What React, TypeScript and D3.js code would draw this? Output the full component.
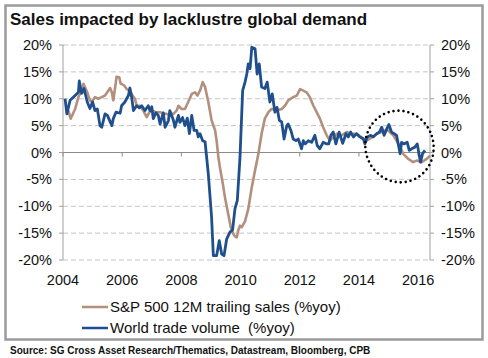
import React from "react";
import * as d3 from "d3";

const salesDates = [
  2004.18, 2004.26, 2004.41, 2004.52, 2004.63, 2004.69, 2004.82, 2004.91, 2004.97, 2005.08,
  2005.19, 2005.31, 2005.42, 2005.53, 2005.59, 2005.65, 2005.7, 2005.76, 2005.81, 2005.9,
  2005.95, 2006.06, 2006.15, 2006.26, 2006.35, 2006.43, 2006.49, 2006.6, 2006.71, 2006.83,
  2006.92, 2007.03, 2007.11, 2007.28, 2007.39, 2007.5, 2007.61, 2007.73, 2007.84, 2007.9,
  2008.01, 2008.12, 2008.23, 2008.35, 2008.46, 2008.54, 2008.63, 2008.72, 2008.8, 2008.91,
  2009.02, 2009.14, 2009.19, 2009.25, 2009.3, 2009.4, 2009.47, 2009.58, 2009.67, 2009.75,
  2009.81, 2009.87, 2009.92, 2009.98, 2010.04, 2010.15, 2010.26, 2010.38, 2010.49, 2010.6,
  2010.71, 2010.82, 2010.94, 2011.05, 2011.22, 2011.39, 2011.5, 2011.61, 2011.78, 2011.9,
  2012.01, 2012.12, 2012.23, 2012.34, 2012.46, 2012.57, 2012.68, 2012.79, 2012.91, 2013.02,
  2013.13, 2013.25, 2013.42, 2013.58, 2013.75, 2013.92, 2014.09, 2014.26, 2014.43, 2014.6,
  2014.77, 2014.88, 2014.99, 2015.16, 2015.27, 2015.39, 2015.5, 2015.67, 2015.83, 2015.95,
  2016.12, 2016.29, 2016.4,
];
const salesValues = [
  7.8, 6.3, 8.1, 10.3, 11.5, 12.8, 11.2, 9.7, 9.4, 10.3,
  10.0, 10.3, 10.6, 11.5, 12.0, 11.2, 9.7, 12.0, 14.1, 14.0,
  12.8, 12.5, 11.8, 11.5, 10.6, 10.0, 8.7, 8.7, 7.8, 6.6,
  7.5, 7.8, 7.5, 7.5, 7.2, 7.2, 6.9, 7.2, 7.8, 8.7,
  8.1, 8.1, 9.4, 10.9, 11.2, 10.6, 11.5, 13.1, 12.2, 9.4,
  6.0, 4.1, 2.2, -0.9, -2.7, -5.8, -8.3, -11.4, -13.9, -15.1,
  -15.6, -15.8, -14.5, -13.6, -13.9, -12.8, -10.5, -6.4, -3.3, -0.3,
  3.5, 6.3, 7.5, 8.1, 7.8, 8.1, 8.7, 9.7, 10.3, 10.6,
  11.8, 11.5, 11.2, 10.3, 8.7, 7.5, 6.3, 4.7, 3.2, 2.2,
  2.8, 3.5, 3.2, 3.8, 3.5, 3.5, 2.8, 2.2, 2.8, 3.5,
  3.8, 4.1, 4.1, 3.2, 2.2, 1.0, -0.3, -1.2, -1.8, -1.5,
  -1.8, -1.2, -0.6,
];

const tradeDates = [
  2004.07, 2004.13, 2004.24, 2004.41, 2004.52, 2004.55, 2004.63, 2004.71, 2004.82, 2004.91,
  2005.0, 2005.08, 2005.16, 2005.25, 2005.31, 2005.42, 2005.5, 2005.65, 2005.7, 2005.79,
  2005.93, 2005.98, 2006.09, 2006.21, 2006.26, 2006.32, 2006.38, 2006.49, 2006.58, 2006.66,
  2006.77, 2006.88, 2006.94, 2007.0, 2007.05, 2007.14, 2007.22, 2007.28, 2007.39, 2007.45,
  2007.56, 2007.61, 2007.73, 2007.78, 2007.9, 2007.95, 2008.04, 2008.12, 2008.2, 2008.27,
  2008.35, 2008.43, 2008.52, 2008.57, 2008.63, 2008.72, 2008.8, 2008.91, 2009.02, 2009.08,
  2009.19, 2009.28, 2009.36, 2009.44, 2009.53, 2009.64, 2009.73, 2009.81, 2009.89, 2009.98,
  2010.07, 2010.15, 2010.21, 2010.26, 2010.32, 2010.38, 2010.49, 2010.56, 2010.63, 2010.71,
  2010.82, 2010.9, 2010.99, 2011.07, 2011.16, 2011.23, 2011.31, 2011.39, 2011.47, 2011.56,
  2011.61, 2011.7, 2011.78, 2011.87, 2011.95, 2012.06, 2012.12, 2012.18, 2012.29, 2012.4,
  2012.51, 2012.59, 2012.68, 2012.79, 2012.91, 2012.98, 2013.05, 2013.13, 2013.22, 2013.33,
  2013.45, 2013.56, 2013.64, 2013.72, 2013.81, 2013.92, 2014.03, 2014.15, 2014.2, 2014.28,
  2014.4, 2014.48, 2014.6, 2014.69, 2014.77, 2014.85, 2014.94, 2015.01, 2015.1, 2015.19,
  2015.27, 2015.39, 2015.44, 2015.52, 2015.63, 2015.7, 2015.78, 2015.89, 2015.97, 2016.04,
  2016.08, 2016.15, 2016.23,
];
const tradeValues = [
  10.0, 7.2, 9.7, 10.6, 11.2, 13.3, 11.0, 11.9, 9.4, 8.2,
  9.4, 7.8, 8.1, 5.0, 4.7, 7.2, 6.9, 5.0, 6.3, 7.5,
  7.3, 8.7, 9.4, 10.6, 12.0, 10.3, 7.8, 8.7, 8.3, 8.7,
  7.8, 8.7, 7.8, 8.5, 6.3, 7.4, 6.9, 5.3, 7.4, 4.7,
  5.9, 7.8, 6.0, 4.7, 6.9, 5.6, 6.5, 5.0, 6.4, 3.5,
  6.9, 4.1, 4.1, 2.9, 3.5, 2.2, 2.0, -4.0, -12.0, -19.2,
  -19.2, -16.4, -18.9, -19.2, -16.1, -14.8, -14.4, -10.5, -8.9, -0.9,
  11.5, 13.1, 14.6, 16.5, 15.6, 19.6, 19.3, 14.6, 16.5, 12.2,
  11.9, 13.1, 9.4, 10.9, 7.5, 8.4, 6.0, 5.7, 2.5, 5.0,
  5.3, 4.1, 2.5, 2.2, 2.5, 0.7, 2.2, 1.6, 2.2, 1.9,
  3.2, 1.3, 0.7, 1.9, 1.6, 1.6, 3.2, 3.8, 1.6, 3.8,
  1.7, 3.5, 2.9, 3.8, 2.9, 3.5, 2.9, 2.5, 1.6, 2.9,
  3.2, 2.9, 3.5, 3.8, 4.7, 3.2, 4.4, 5.2, 3.8, 3.5,
  3.2, -0.25, 1.9, 1.6, 1.9, 0.4, 0.7, 1.0, 1.6, -0.6,
  -1.8, -0.2, 0.4,
];

const yTicks = [20, 15, 10, 5, 0, -5, -10, -15, -20];
const xTicks = [2004, 2006, 2008, 2010, 2012, 2014, 2016];

const title = "Sales impacted by lacklustre global demand";
const seriesNames = ["S&P 500 12M trailing sales (%yoy)", "World trade volume  (%yoy)"];
const source = "Source: SG Cross Asset Research/Thematics, Datastream, Bloomberg, CPB";

const BROWN = "#b38f7e";
const BLUE = "#1f4f8d";
const FONT = "'Liberation Sans', Arial, sans-serif";

export default function App() {
  const x = d3.scaleLinear().domain([2004, 2016.4]).range([63, 430]);
  const y = d3.scaleLinear().domain([-20, 20]).range([260, 45]);
  const line = d3
    .line<[number, number]>()
    .x((d) => x(d[0]))
    .y((d) => y(d[1]))
    .curve(d3.curveLinear);

  const sales = salesDates.map((d, i) => [d, salesValues[i]] as [number, number]);
  const trade = tradeDates.map((d, i) => [d, tradeValues[i]] as [number, number]);
  const [x0, x1] = x.range();

  return (
    <svg
      width={488}
      height={358}
      style={{ position: "fixed", left: 0, top: 0, background: "#fff" }}
      fontFamily={FONT}
    >
      <rect x={0} y={0} width={488} height={358} fill="#fff" />
      <rect x={5.5} y={5.5} width={477} height={334} fill="#fff" stroke="#9a9a9a" strokeWidth={2.5} />
      <text x={10} y={25} fontSize={17} fontWeight="bold" fill="#111">
        {title}
      </text>

      {/* grid */}
      {yTicks.map((t) => (
        <line
          key={"g" + t}
          x1={x0}
          x2={x1}
          y1={y(t)}
          y2={y(t)}
          stroke={t === 0 ? "#8c8c8c" : "#c4c4c4"}
          strokeWidth={1}
          strokeDasharray={t === 0 ? undefined : "5,3"}
        />
      ))}
      {/* axes */}
      <line x1={x0} x2={x0} y1={y(20)} y2={y(-20)} stroke="#a0a0a0" />
      <line x1={x1} x2={x1} y1={y(20)} y2={y(-20)} stroke="#a0a0a0" />
      {yTicks.map((t) => (
        <g key={"t" + t}>
          <line x1={x0 - 4} x2={x0} y1={y(t)} y2={y(t)} stroke="#a0a0a0" />
          <line x1={x1} x2={x1 + 4} y1={y(t)} y2={y(t)} stroke="#a0a0a0" />
          <text x={52} y={y(t) + 5} fontSize={14.5} textAnchor="end" fill="#111">
            {t + "%"}
          </text>
          <text x={441} y={y(t) + 5} fontSize={14.5} textAnchor="start" fill="#111">
            {t + "%"}
          </text>
        </g>
      ))}
      {xTicks.map((t) => (
        <g key={"x" + t}>
          <line x1={x(t)} x2={x(t)} y1={y(0)} y2={y(0) + 4} stroke="#8c8c8c" />
          <text x={x(t)} y={285} fontSize={14.5} textAnchor="middle" fill="#111">
            {t}
          </text>
        </g>
      ))}

      <path d={line(sales) || ""} fill="none" stroke={BROWN} strokeWidth={2.6} strokeLinejoin="round" />
      <path d={line(trade) || ""} fill="none" stroke={BLUE} strokeWidth={2.8} strokeLinejoin="round" />

      <ellipse
        cx={399.5}
        cy={146.5}
        rx={34}
        ry={36}
        transform="rotate(-18 399.5 146.5)"
        fill="none"
        stroke="#000"
        strokeWidth={2.6}
        strokeDasharray="0 5"
        strokeLinecap="round"
      />

      {/* legend */}
      <line x1={82} x2={108} y1={307} y2={307} stroke={BROWN} strokeWidth={2.5} />
      <text x={110} y={312} fontSize={15} fill="#111">
        {seriesNames[0]}
      </text>
      <line x1={82} x2={108} y1={328} y2={328} stroke={BLUE} strokeWidth={2.5} />
      <text x={110} y={333} fontSize={15} fill="#111" style={{ whiteSpace: "pre" }}>
        {seriesNames[1]}
      </text>

      <text x={10} y={354} fontSize={10} fontWeight="bold" fill="#111">
        {source}
      </text>
    </svg>
  );
}
